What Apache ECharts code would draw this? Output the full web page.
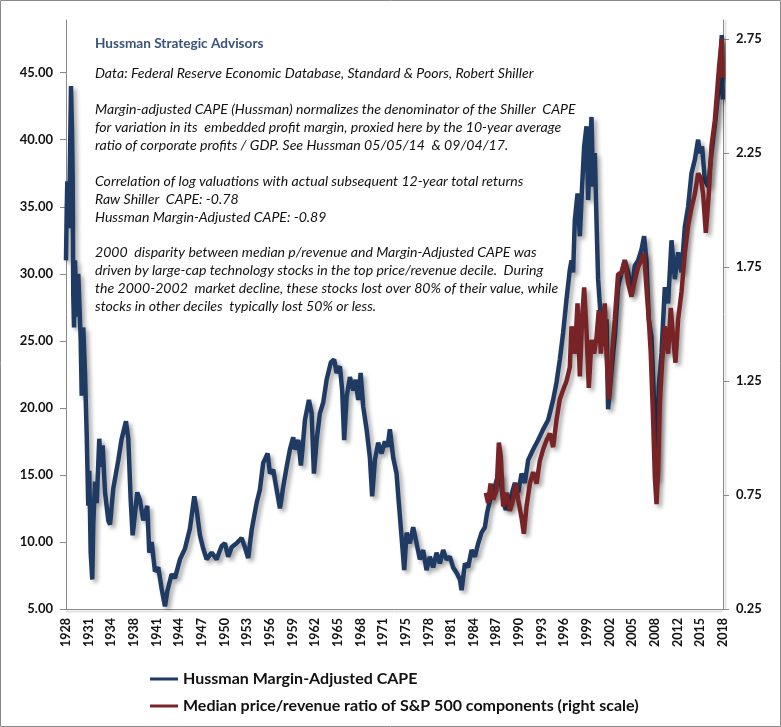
<!DOCTYPE html>
<html>
<head>
<meta charset="utf-8">
<script src="https://cdn.jsdelivr.net/npm/echarts@6/dist/echarts.min.js"></script>
<style>
html,body{margin:0;padding:0;background:#fff;}
#c{width:781px;height:727px;}
</style>
</head>
<body>
<div id="c"></div>
<script>
// X axis tick labels (evenly spaced, one every 37 months starting Oct 1928)
var xLabels = ['1928','1931','1934','1938','1941','1944','1947','1950','1953','1956','1959','1962','1965','1968','1971','1975','1978','1981','1984','1987','1990','1993','1996','1999','2002','2005','2008','2012','2015','2018'];
var leftTicks = [5, 10, 15, 20, 25, 30, 35, 40, 45];
var rightTicks = [0.25, 0.75, 1.25, 1.75, 2.25, 2.75];

// Hussman Margin-Adjusted CAPE (left scale)
var capeYears = [1928.75,1928.85,1928.93,1929.16,1929.43,1929.57,1929.66,1929.74,1929.84,1929.97,1930.21,1930.42,1930.75,1930.89,1931.10,1931.34,1931.57,1931.78,1931.92,1932.11,1932.33,1932.46,1932.70,1932.93,1933.28,1933.47,1933.74,1934.06,1934.51,1934.74,1935.19,1935.87,1936.33,1936.91,1937.23,1937.55,1937.82,1938.45,1938.82,1939.27,1939.81,1940.08,1940.41,1940.86,1941.31,1941.77,1942.22,1942.53,1943.13,1943.58,1944.26,1944.94,1945.62,1946.21,1946.53,1946.98,1947.43,1947.89,1948.57,1949.25,1949.93,1950.38,1950.83,1951.29,1951.97,1952.65,1953.10,1953.55,1954.02,1954.69,1955.14,1955.59,1956.19,1956.51,1956.95,1957.42,1957.87,1958.31,1958.78,1959.23,1959.67,1959.91,1960.36,1960.72,1961.04,1961.27,1961.81,1962.18,1962.49,1962.86,1963.31,1963.76,1964.22,1964.80,1965.25,1965.58,1966.03,1966.34,1966.61,1966.94,1967.39,1967.84,1968.17,1968.52,1968.85,1969.20,1969.66,1970.11,1970.42,1970.79,1971.24,1971.70,1972.15,1972.52,1972.83,1973.28,1973.74,1974.05,1974.42,1974.78,1975.10,1975.55,1976.00,1976.46,1976.91,1977.36,1977.82,1978.27,1978.72,1979.18,1979.63,1980.08,1980.54,1980.99,1981.44,1981.91,1982.36,1982.59,1983.04,1983.48,1983.95,1984.40,1984.85,1985.31,1985.76,1986.07,1986.44,1986.89,1987.35,1987.80,1988.25,1988.61,1989.16,1989.84,1990.29,1990.75,1991.20,1991.65,1992.33,1993.01,1993.69,1994.37,1995.05,1995.51,1995.96,1996.41,1996.87,1997.32,1997.55,1997.77,1998.00,1998.37,1998.68,1998.99,1999.27,1999.59,1999.81,2000.04,2000.27,2000.49,2000.72,2000.95,2001.17,2001.54,2001.85,2002.08,2002.31,2002.53,2002.99,2003.44,2003.89,2004.35,2004.80,2005.25,2005.71,2006.16,2006.61,2007.07,2007.43,2007.75,2008.07,2008.43,2008.79,2009.12,2009.43,2009.80,2010.25,2010.70,2011.16,2011.61,2012.06,2012.52,2012.97,2013.42,2013.88,2014.33,2014.78,2015.01,2015.32,2015.69,2016.14,2016.60,2017.05,2017.42,2017.73,2018.00,2018.14];
var capeValues = [31.0,34.8,36.9,33.4,44.0,40.7,37.2,28.4,26.0,31.0,26.8,30.0,25.1,20.9,26.0,22.5,18.0,12.7,15.3,9.2,7.2,11.3,14.5,12.9,17.7,15.6,17.2,13.7,11.6,11.3,14.0,16.1,17.7,19.0,17.7,13.2,10.5,13.7,13.1,11.6,12.7,9.2,10.0,7.8,8.1,6.5,5.2,6.3,7.6,7.3,8.7,9.5,11.0,13.4,12.4,10.5,9.5,8.7,9.2,8.7,9.7,9.9,8.9,9.6,9.9,10.3,9.6,8.8,10.9,12.9,13.9,15.9,16.6,15.1,15.4,13.9,12.5,14.1,15.6,16.9,17.8,16.9,17.6,15.7,17.6,19.1,20.6,19.6,15.1,17.6,19.6,20.4,22.1,23.4,23.6,22.6,23.1,21.3,17.6,20.8,22.3,21.3,22.1,20.6,22.6,20.1,18.4,16.3,13.4,16.1,17.4,16.6,17.5,17.1,18.4,16.3,15.1,12.9,10.4,7.9,10.7,9.9,11.1,9.9,8.7,9.4,7.9,8.9,8.1,9.2,8.4,9.4,8.7,8.9,8.1,7.7,7.2,6.4,8.4,8.1,9.4,8.9,9.9,10.7,11.1,12.2,13.1,13.7,14.6,15.1,13.1,12.4,13.1,14.4,13.7,15.1,14.4,16.1,16.9,17.6,18.4,19.1,20.6,21.9,23.6,25.6,28.1,30.3,31.0,30.1,34.0,36.0,32.8,36.5,39.5,41.0,35.5,39.0,41.7,36.5,39.0,34.0,29.6,26.6,27.5,24.6,26.6,19.9,22.8,25.3,29.0,30.1,31.0,30.1,28.6,30.6,31.0,31.8,32.8,31.0,26.6,25.3,20.4,14.6,21.6,24.1,29.0,27.8,32.5,29.6,31.6,30.1,33.5,35.0,37.5,38.5,40.0,39.0,39.5,37.0,36.5,39.0,41.0,43.0,44.5,47.8,43.0];

// Median price/revenue ratio of S&P 500 components (right scale)
var prYears = [1985.89,1986.20,1986.53,1986.89,1987.35,1987.66,1987.93,1988.25,1988.71,1989.16,1989.61,1989.97,1990.29,1990.75,1991.06,1991.43,1991.88,1992.33,1992.79,1993.24,1993.69,1994.15,1994.60,1995.05,1995.51,1995.96,1996.41,1996.87,1997.32,1997.55,1998.00,1998.37,1998.68,1998.99,1999.27,1999.59,1999.90,2000.27,2000.62,2000.95,2001.26,2001.54,2001.85,2002.08,2002.31,2002.63,2002.99,2003.44,2003.89,2004.35,2004.80,2005.25,2005.71,2006.16,2006.61,2007.07,2007.43,2007.75,2008.07,2008.34,2008.66,2008.89,2009.12,2009.34,2009.57,2009.88,2010.25,2010.70,2011.06,2011.38,2011.70,2012.06,2012.52,2012.97,2013.42,2013.88,2014.33,2014.78,2015.15,2015.46,2015.83,2016.23,2016.60,2017.05,2017.42,2017.64,2018.00,2018.14];
var prValues = [0.76,0.715,0.80,0.73,0.77,0.98,0.92,0.70,0.76,0.68,0.73,0.80,0.73,0.65,0.58,0.70,0.80,0.85,0.80,0.90,0.95,0.99,1.02,0.96,1.08,1.17,1.21,1.25,1.31,1.49,1.37,1.59,1.27,1.52,1.66,1.47,1.22,1.43,1.37,1.44,1.56,1.37,1.52,1.59,1.37,1.17,1.34,1.52,1.72,1.72,1.78,1.68,1.62,1.69,1.75,1.78,1.81,1.66,1.52,1.37,1.08,0.83,0.71,0.86,1.15,1.33,1.49,1.37,1.57,1.44,1.33,1.52,1.64,1.81,1.93,2.01,2.07,2.16,2.14,2.07,1.90,2.07,2.28,2.39,2.54,2.63,2.75,2.58];

var X0 = 1928.75, STEP = 37 / 12;
var X1 = X0 + STEP * (xLabels.length - 1);
var xPos = xLabels.map(function (_, i) { return X0 + i * STEP; });

var noteLines = [
  'Data: Federal Reserve Economic Database, Standard & Poors, Robert Shiller',
  '',
  'Margin-adjusted CAPE (Hussman) normalizes the denominator of the Shiller  CAPE',
  'for variation in its  embedded profit margin, proxied here by the 10-year average',
  'ratio of corporate profits / GDP. See Hussman 05/05/14  & 09/04/17.',
  '',
  'Correlation of log valuations with actual subsequent 12-year total returns',
  'Raw Shiller  CAPE: -0.78',
  'Hussman Margin-Adjusted CAPE: -0.89',
  '',
  '2000  disparity between median p/revenue and Margin-Adjusted CAPE was',
  'driven by large-cap technology stocks in the top price/revenue decile.  During',
  'the 2000-2002  market decline, these stocks lost over 80% of their value, while',
  'stocks in other deciles  typically lost 50% or less.'
];

function pairs(xs, ys) { return xs.map(function (x, i) { return [x, ys[i]]; }); }

var FONT = 'Lato, "Open Sans", sans-serif';
var chart = echarts.init(document.getElementById('c'), null, { renderer: 'canvas' });
chart.setOption({
  animation: false,
  backgroundColor: '#fff',
  grid: { left: 66, right: 58, top: 20, bottom: 118 },
  xAxis: {
    type: 'value', min: X0, max: X1,
    splitLine: { show: false },
    axisLine: { lineStyle: { color: '#8a8a8a', width: 1, shadowColor: 'rgba(0,0,0,0.25)', shadowOffsetY: 2, shadowBlur: 2 } },
    axisTick: { show: false },
    axisLabel: {
      customValues: xPos, rotate: 90, margin: 9,
      fontFamily: FONT, fontWeight: 'bold', fontSize: 12.5, color: '#111',
      formatter: function (v) { return xLabels[Math.round((v - X0) / STEP)]; }
    }
  },
  yAxis: [{
    type: 'value', min: 5, max: 48.93, position: 'left',
    splitLine: { show: false },
    axisLine: { show: true, lineStyle: { color: '#8a8a8a' } },
    axisTick: { show: true, customValues: leftTicks, length: 6, lineStyle: { color: '#8a8a8a' } },
    axisLabel: {
      customValues: leftTicks, margin: 13,
      fontFamily: FONT, fontWeight: 'bold', fontSize: 13, color: '#111',
      formatter: function (v) { return v.toFixed(2); }
    }
  }, {
    type: 'value', min: 0.25, max: 2.833, position: 'right',
    splitLine: { show: false },
    axisLine: { show: true, lineStyle: { color: '#8a8a8a', shadowColor: 'rgba(0,0,0,0.25)', shadowOffsetX: 2, shadowBlur: 2 } },
    axisTick: { show: true, customValues: rightTicks, length: 6, lineStyle: { color: '#8a8a8a' } },
    axisLabel: {
      customValues: rightTicks, margin: 13,
      fontFamily: FONT, fontWeight: 'bold', fontSize: 13, color: '#111',
      formatter: function (v) { return v.toFixed(2); }
    }
  }],
  legend: {
    orient: 'vertical', left: 145, top: 666, itemGap: 11,
    itemWidth: 28, itemHeight: 3, icon: 'rect',
    textStyle: { fontFamily: FONT, fontWeight: 'bold', fontSize: 16, color: '#111' },
    data: ['Hussman Margin-Adjusted CAPE', 'Median price/revenue ratio of S&P 500 components (right scale)']
  },
  graphic: [
    { type: 'rect', silent: true, shape: { x: 0.5, y: 0.5, width: 780, height: 726 }, style: { fill: 'none', stroke: '#8a8a8a', lineWidth: 1 } },
    { type: 'text', left: 95, top: 37, silent: true, style: { text: 'Hussman Strategic Advisors', font: 'bold 13.6px ' + FONT, fill: '#3a5378' } },
    { type: 'text', left: 95, top: 65, silent: true, style: { text: noteLines.join('\n'), font: 'italic 14.1px ' + FONT, lineHeight: 17.9, fill: '#111' } }
  ],
  series: [{
    name: 'Hussman Margin-Adjusted CAPE', type: 'line', yAxisIndex: 0,
    showSymbol: false, symbol: 'none',
    data: pairs(capeYears, capeValues),
    itemStyle: { color: '#1f3b64' },
    lineStyle: { color: '#1f3b64', width: 4.5, shadowColor: 'rgba(0,0,0,0.35)', shadowBlur: 4, shadowOffsetX: 3, shadowOffsetY: 3 }
  }, {
    name: 'Median price/revenue ratio of S&P 500 components (right scale)', type: 'line', yAxisIndex: 1,
    showSymbol: false, symbol: 'none',
    data: pairs(prYears, prValues),
    itemStyle: { color: '#782427' },
    lineStyle: { color: '#782427', width: 4.5, shadowColor: 'rgba(0,0,0,0.35)', shadowBlur: 4, shadowOffsetX: 3, shadowOffsetY: 3 }
  }]
});
</script>
</body>
</html>
